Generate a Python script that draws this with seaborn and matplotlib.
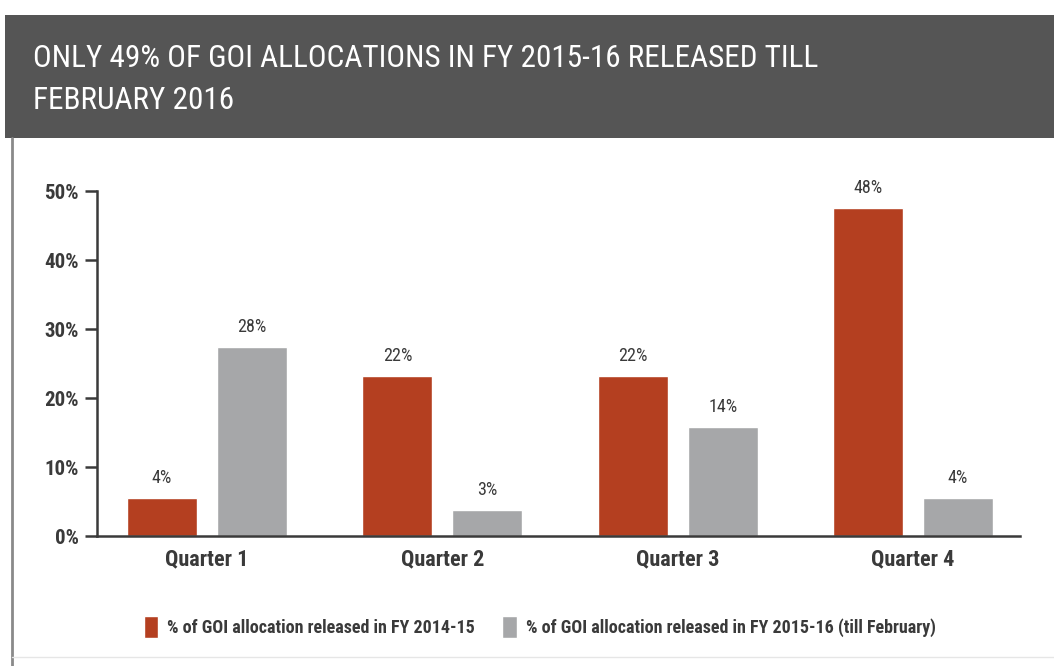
import matplotlib
matplotlib.use("Agg")
import matplotlib.pyplot as plt
import matplotlib.patches as mpatches
import pandas as pd
import seaborn as sns

# data
quarters = ["Quarter 1", "Quarter 2", "Quarter 3", "Quarter 4"]
series_names = ["% of GOI allocation released in FY 2014-15",
                "% of GOI allocation released in FY 2015-16 (till February)"]
fy1415 = [5.5, 23.2, 23.2, 47.6]
fy1516 = [27.4, 3.8, 15.8, 5.5]
labels_1415 = ["4%", "22%", "22%", "48%"]
labels_1516 = ["28%", "3%", "14%", "4%"]
y_ticks = [0, 10, 20, 30, 40, 50]

RED = "#b43f20"
GREY = "#a6a7a9"
DARK = "#3a3a3a"

df = pd.DataFrame({
    "quarter": quarters * 2,
    "series": [series_names[0]] * 4 + [series_names[1]] * 4,
    "value": fy1415 + fy1516,
})

sns.set_theme(style="white")
plt.rcParams["font.family"] = ["DejaVu Sans Condensed", "Roboto Condensed", "DejaVu Sans"]
plt.rcParams["font.stretch"] = "condensed"

fig = plt.figure(figsize=(10.54, 6.66), dpi=100)

# header band + frame lines
fig.patches.append(mpatches.Rectangle((0.005, 0.793), 0.995, 0.184, transform=fig.transFigure,
                                      facecolor="#555555", edgecolor="none", zorder=0))
fig.add_artist(plt.Line2D([0.011, 0.011], [0.0, 0.793], color="#8a8a8a", lw=2))
fig.add_artist(plt.Line2D([0.011, 1.0], [0.014, 0.014], color="#e6e6e6", lw=1))
fig.text(0.031, 0.881, "ONLY 49% OF GOI ALLOCATIONS IN FY 2015-16 RELEASED TILL\nFEBRUARY 2016",
         color="white", fontsize=22.5, ha="left", va="center", linespacing=1.55)

ax = fig.add_axes([0.092, 0.195, 0.8757, 0.518])
sns.barplot(data=df, x="quarter", y="value", hue="series", order=quarters,
            hue_order=series_names, palette=[RED, GREY], width=0.764, gap=0.222,
            saturation=1, ax=ax, legend=True)

for cont, labs in zip(ax.containers, [labels_1415, labels_1516]):
    ax.bar_label(cont, labels=labs, padding=8, fontsize=13, color=DARK, clip_on=False)

ax.set_xlim(-0.467, 3.454)
ax.set_ylim(0, 50)
ax.set_yticks(y_ticks)
ax.set_yticklabels([f"{t}%" for t in y_ticks], fontsize=15, fontweight="bold", color=DARK)
ax.tick_params(axis="y", left=True, length=9, width=1.8, color=DARK, pad=4)
ax.tick_params(axis="x", bottom=False, pad=3)
for t in ax.get_xticklabels():
    t.set_fontsize(16)
    t.set_fontweight("bold")
    t.set_color(DARK)
ax.set_xlabel("")
ax.set_ylabel("")
sns.despine(ax=ax, top=True, right=True)
ax.spines["left"].set_color(DARK)
ax.spines["left"].set_linewidth(1.8)
ax.spines["bottom"].set_color(DARK)
ax.spines["bottom"].set_linewidth(1.8)

handles, lbls = ax.get_legend_handles_labels()
ax.get_legend().remove()
fig.legend(handles, lbls, loc="center", bbox_to_anchor=(0.512, 0.058), ncol=2, frameon=False,
           handlelength=0.8, handleheight=1.5, handletextpad=0.5, columnspacing=1.5,
           prop={"size": 13, "weight": "bold"}, labelcolor=DARK)

fig.savefig("out.png", dpi=100)
